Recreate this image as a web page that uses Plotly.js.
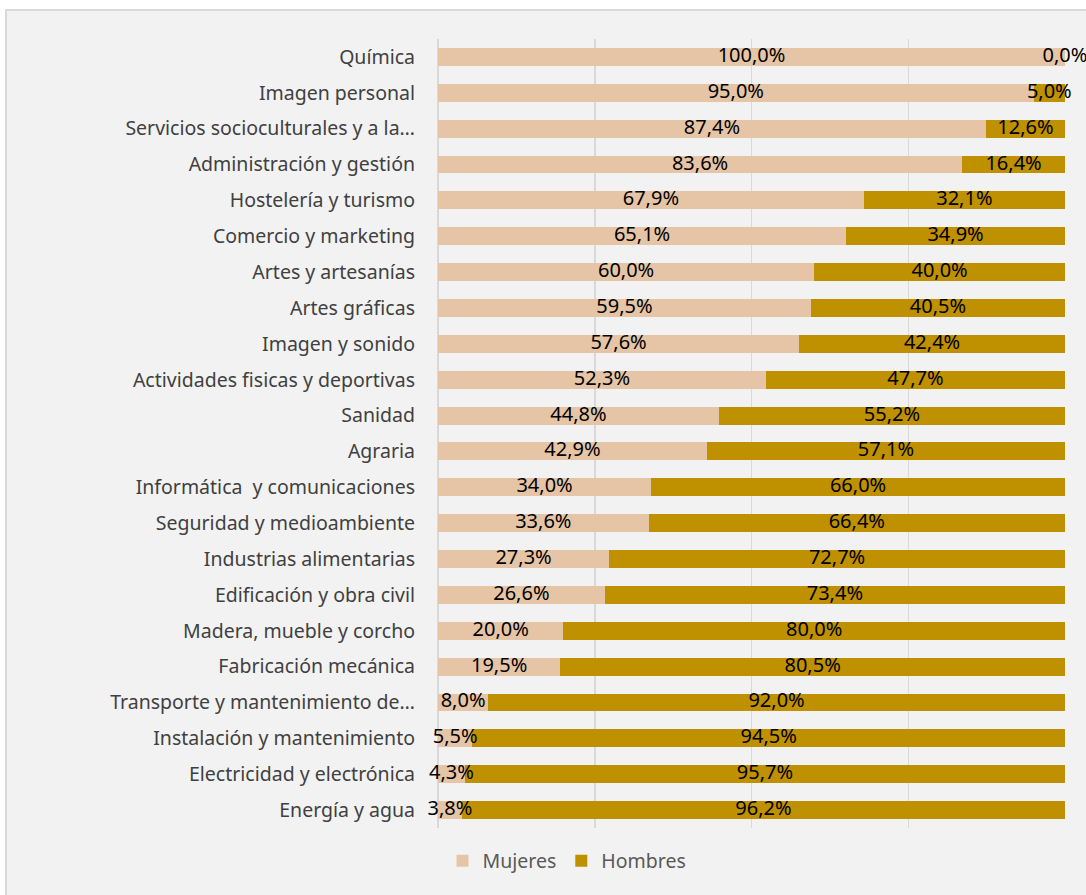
<!DOCTYPE html>
<html>
<head>
<meta charset="utf-8">
<script src="https://cdn.plot.ly/plotly-3.0.1.min.js"></script>
<style>html,body{margin:0;padding:0;background:#fff;}#chart{width:1086px;height:895px;}</style>
</head>
<body>
<div id="chart"></div>
<script>
const categories = [
  "Química",
  "Imagen personal",
  "Servicios socioculturales y a la…",
  "Administración y gestión",
  "Hostelería y turismo",
  "Comercio y marketing",
  "Artes y artesanías",
  "Artes gráficas",
  "Imagen y sonido",
  "Actividades fisicas y deportivas",
  "Sanidad",
  "Agraria",
  "Informática  y comunicaciones",
  "Seguridad y medioambiente",
  "Industrias alimentarias",
  "Edificación y obra civil",
  "Madera, mueble y corcho",
  "Fabricación mecánica",
  "Transporte y mantenimiento de…",
  "Instalación y mantenimiento",
  "Electricidad y electrónica",
  "Energía y agua"
];
const mujeres = [100.0, 95.0, 87.4, 83.6, 67.9, 65.1, 60.0, 59.5, 57.6, 52.3, 44.8, 42.9, 34.0, 33.6, 27.3, 26.6, 20.0, 19.5, 8.0, 5.5, 4.3, 3.8];
const hombres = [0.0, 5.0, 12.6, 16.4, 32.1, 34.9, 40.0, 40.5, 42.4, 47.7, 55.2, 57.1, 66.0, 66.4, 72.7, 73.4, 80.0, 80.5, 92.0, 94.5, 95.7, 96.2];

const seriesNames = ["Mujeres", "Hombres"];
const colors = ["#E6C5A6", "#BF9000"];

const font = "'Noto Sans', 'Open Sans', sans-serif";

const traces = [
  {type: "bar", orientation: "h", name: seriesNames[0], y: categories, x: mujeres,
   marker: {color: colors[0]}, width: 0.5, hoverinfo: "x"},
  {type: "bar", orientation: "h", name: seriesNames[1], y: categories, x: hombres,
   marker: {color: colors[1]}, width: 0.5, hoverinfo: "x"},
  {type: "scatter", mode: "text", showlegend: false, y: categories,
   x: mujeres.map(v => v / 2), customdata: mujeres,
   texttemplate: "%{customdata:.1f}%", textposition: "middle center",
   textfont: {family: font, size: 20, color: "#000"}, cliponaxis: false, hoverinfo: "skip"},
  {type: "scatter", mode: "text", showlegend: false, y: categories,
   x: mujeres.map((m, i) => m + hombres[i] / 2), customdata: hombres,
   texttemplate: "%{customdata:.1f}%", textposition: "middle center",
   textfont: {family: font, size: 20, color: "#000"}, cliponaxis: false, hoverinfo: "skip"}
];

const L = 438, R = 21, T = 39, B = 67, W = 1086, H = 895;
const pw = W - L - R, ph = H - T - B;
const px2x = p => (p - L) / pw;
const py2y = p => (H - B - p) / ph;

const layout = {
  width: W, height: H,
  margin: {l: L, r: R, t: T, b: B},
  paper_bgcolor: "#ffffff",
  plot_bgcolor: "rgba(0,0,0,0)",
  separators: ",.",
  barmode: "stack",
  font: {family: font, color: "#404040"},
  xaxis: {range: [0, 100], showticklabels: false, showgrid: true, gridcolor: "#d9d9d9", gridwidth: 1.5,
          dtick: 25, zeroline: true, zerolinecolor: "#d9d9d9", zerolinewidth: 1.5, fixedrange: true},
  yaxis: {range: [categories.length - 0.5, -0.5], type: "category", showgrid: false, zeroline: false, showline: false,
          ticks: "", ticklabelstandoff: 22, tickfont: {family: font, size: 19.5, color: "#404040"}},
  showlegend: true,
  legend: {orientation: "h", x: px2x(567), xanchor: "center", y: py2y(861), yanchor: "middle",
           bgcolor: "rgba(0,0,0,0)",
           font: {family: font, size: 19.5, color: "#595959"}, traceorder: "normal", itemwidth: 30},
  shapes: [
    {type: "rect", xref: "paper", yref: "paper", x0: px2x(6), x1: px2x(1100), y0: py2y(10), y1: py2y(910),
     fillcolor: "#f2f2f2", line: {color: "#d9d9d9", width: 2}, layer: "below"}
  ]
};

Plotly.newPlot("chart", traces, layout, {displayModeBar: false, staticPlot: true});
</script>
</body>
</html>
